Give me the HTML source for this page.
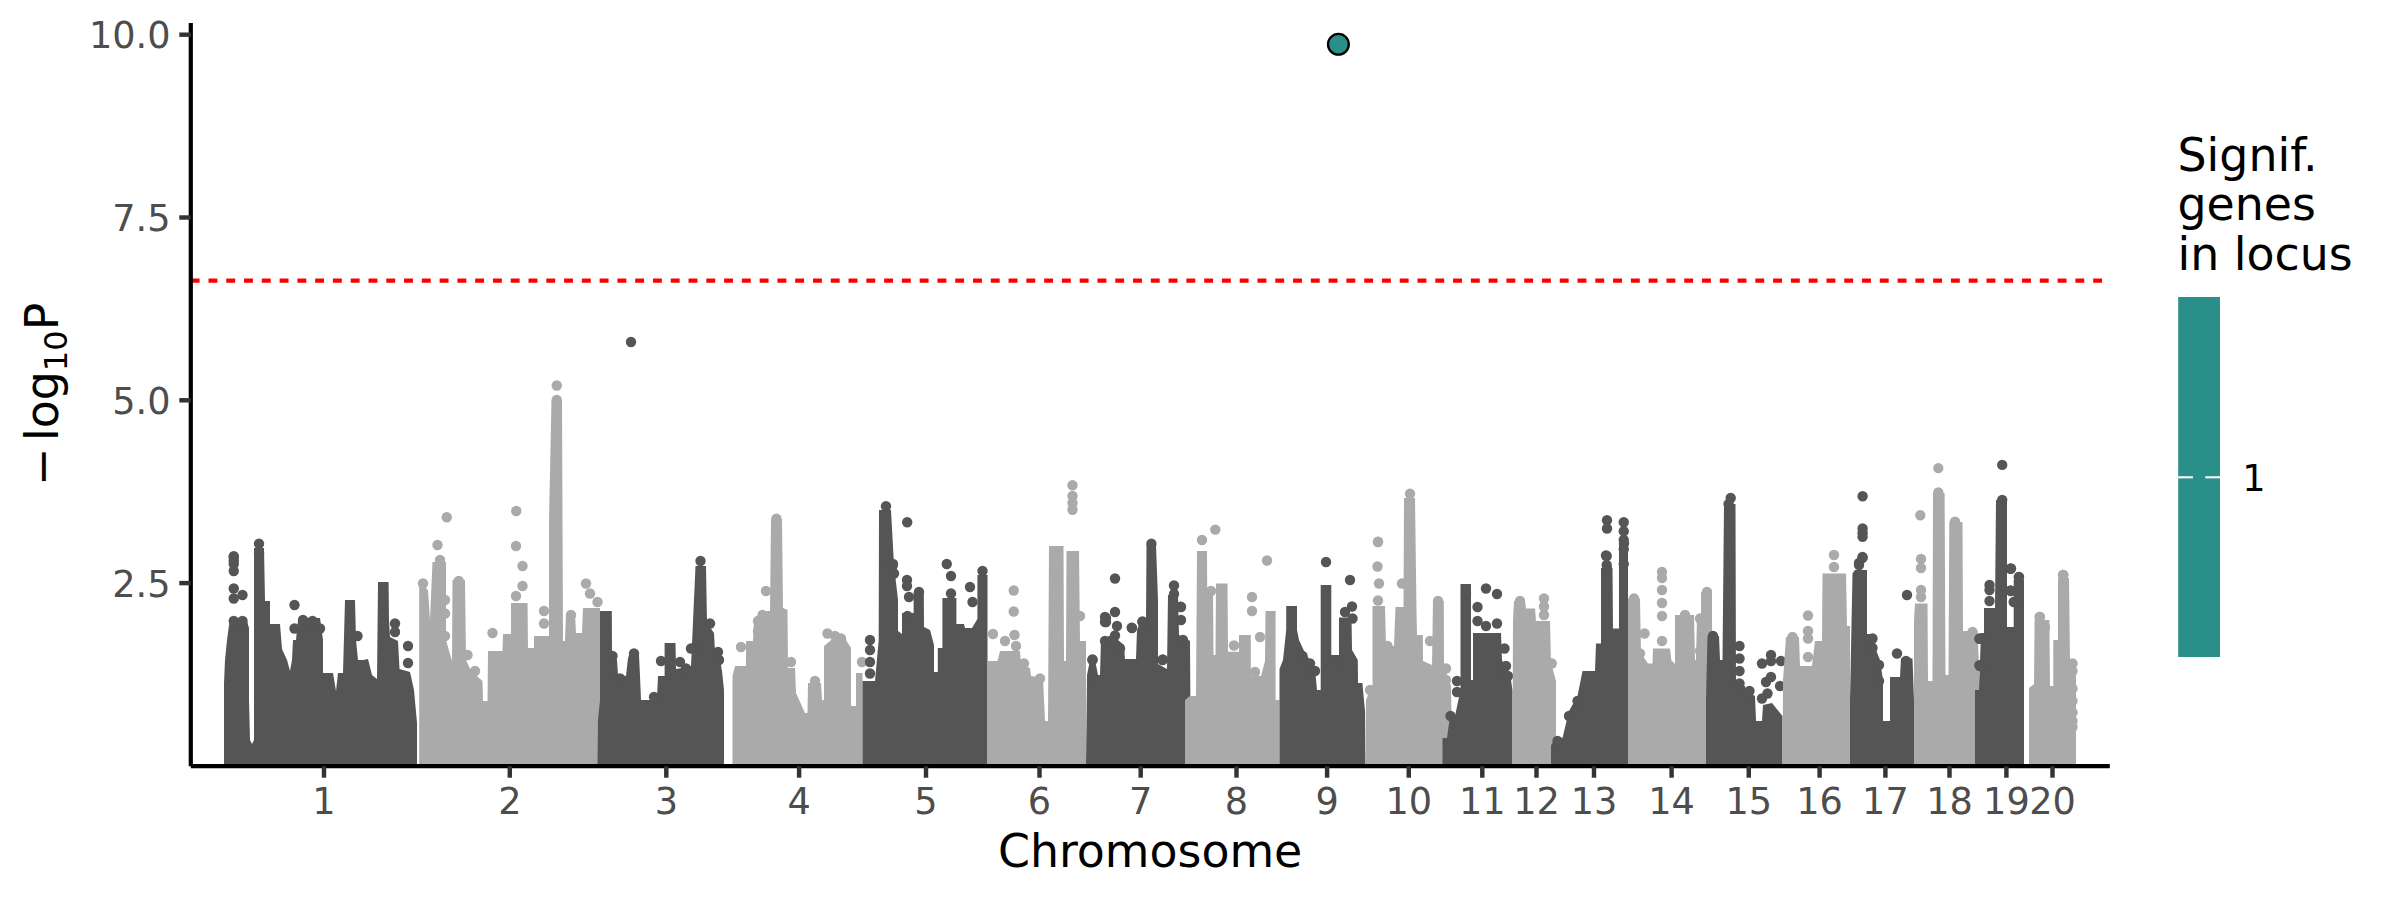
<!DOCTYPE html><html><head><meta charset="utf-8"><title>Manhattan plot</title><style>html,body{margin:0;padding:0;background:#fff;overflow:hidden}svg{display:block}text{font-family:"DejaVu Sans","Liberation Sans",sans-serif}</style></head><body>
<svg width="2400" height="900" viewBox="0 0 2400 900">
<rect width="2400" height="900" fill="#fff"/>
<clipPath id="pc"><rect x="190.8" y="23" width="1919" height="743.2"/></clipPath>
<g clip-path="url(#pc)">
<g fill="#555555"><polygon points="224,766 224,683 225,660 227,640 229,625 231,621 247,621 249,628 249,700 250,740 252,744 254,740 254,656 254,548 264,548 265,601 270,601 270,624 280,624 282,649 287,660 290,671 292,660 293,640 296,640 298,620 300,618 320,618 323,640 323,673 333,673 336,691 338,673 343,673 345,600 355,600 356,640 358,660 363,660 368,659 372,675 377,679 378,582 388.6,582 389,620 390,637 398,641 399.5,669 410,672 414,690 417,723 417,766"/>
<circle cx="233.75" cy="557" r="5.2"/>
<circle cx="233.75" cy="564" r="5.2"/>
<circle cx="233.75" cy="571" r="5.2"/>
<circle cx="233.75" cy="588.5" r="5.2"/>
<circle cx="233.75" cy="598.5" r="5.2"/>
<circle cx="242.5" cy="595" r="5.2"/>
<circle cx="233.75" cy="621" r="5.2"/>
<circle cx="242.5" cy="621" r="5.2"/>
<circle cx="294.5" cy="605" r="5.2"/>
<circle cx="294.5" cy="628.5" r="5.2"/>
<circle cx="303" cy="620" r="5.2"/>
<circle cx="312.5" cy="621" r="5.2"/>
<circle cx="320" cy="628.5" r="5.2"/>
<circle cx="357.5" cy="636" r="5.2"/>
<circle cx="395" cy="623.5" r="5.2"/>
<circle cx="395" cy="632" r="5.2"/>
<circle cx="408" cy="646" r="5.2"/>
<circle cx="408" cy="663" r="5.2"/>
<circle cx="259" cy="543.8" r="5.2"/>
<circle cx="259" cy="552.8" r="5.2"/>
<circle cx="233.75" cy="556.3" r="5.2"/>
<circle cx="233.75" cy="560.4" r="5.2"/>
</g>
<g fill="#aaaaaa"><polygon points="419.2,766 419.2,588 420,583 428,590 430,620 432.5,562 446,562 446,640 452,661 452.5,580 465,580 466,660 471,671 482.5,681 483,701 487.5,701 488,651 502.5,651 503,634 511,634 511,603 527.5,603 528,648 534,648 534,636 549,636 549,520 551.5,400 562,400 562.5,520 563,641 565,641 566,614 575,614 576,633 582,633 583,608 600,608 600,766"/>
<circle cx="423" cy="583.5" r="5.2"/>
<circle cx="437.5" cy="545" r="5.2"/>
<circle cx="440" cy="560" r="5.2"/>
<circle cx="445" cy="600" r="5.2"/>
<circle cx="445" cy="613.5" r="5.2"/>
<circle cx="445" cy="636" r="5.2"/>
<circle cx="458.75" cy="581" r="5.2"/>
<circle cx="467.5" cy="655" r="5.2"/>
<circle cx="475" cy="671" r="5.2"/>
<circle cx="476" cy="683.5" r="5.2"/>
<circle cx="492.5" cy="633" r="5.2"/>
<circle cx="516" cy="546" r="5.2"/>
<circle cx="522.5" cy="566" r="5.2"/>
<circle cx="522.5" cy="586" r="5.2"/>
<circle cx="516" cy="596" r="5.2"/>
<circle cx="544" cy="611" r="5.2"/>
<circle cx="544" cy="623.5" r="5.2"/>
<circle cx="571" cy="615" r="5.2"/>
<circle cx="586" cy="583.5" r="5.2"/>
<circle cx="590" cy="593.5" r="5.2"/>
<circle cx="597.5" cy="602" r="5.2"/>
<circle cx="556.75" cy="385.5" r="5.2"/>
<circle cx="556.75" cy="400" r="5.2"/>
<circle cx="446.75" cy="517.25" r="5.2"/>
<circle cx="516.25" cy="511" r="5.2"/>
</g>
<g fill="#555555"><polygon points="597.5,766 598,720 600,700 600,611 611.8,611 612,653 617,660 618,675 626,676 628,658 629,655 639,655 640,676 641,700 650,700 657,697 658,676 664.6,676 664.6,643 675.5,643 676,669 688,667 691,666 695.5,566 706,566 707,623 714,633 715,652 720,660 722,671 724,690 724,766"/>
<circle cx="612.5" cy="656" r="5.2"/>
<circle cx="620" cy="678.5" r="5.2"/>
<circle cx="634" cy="653.5" r="5.2"/>
<circle cx="654" cy="697" r="5.2"/>
<circle cx="661" cy="661" r="5.2"/>
<circle cx="680" cy="662" r="5.2"/>
<circle cx="686" cy="668.5" r="5.2"/>
<circle cx="700.5" cy="561" r="5.2"/>
<circle cx="694" cy="648.5" r="5.2"/>
<circle cx="691" cy="648.5" r="5.2"/>
<circle cx="710" cy="623.5" r="5.2"/>
<circle cx="718" cy="652" r="5.2"/>
<circle cx="719" cy="660" r="5.2"/>
<circle cx="631" cy="342" r="5.2"/>
</g>
<g fill="#aaaaaa"><polygon points="732.5,766 732.5,676 735,666 746,666 746,641 753,641 754,620 760,615 765,611 770,611 771,519 782,519 783,608 787.5,610 788,668 795,668 796,693 805,713 807.5,713 808,683 821,683 822,700 824,700 824,646 836,636 846,640 851,648 851,706 856,706 856,673 862.5,673 862.5,766"/>
<circle cx="741" cy="647" r="5.2"/>
<circle cx="758" cy="621" r="5.2"/>
<circle cx="762.5" cy="615" r="5.2"/>
<circle cx="758" cy="631" r="5.2"/>
<circle cx="766" cy="591" r="5.2"/>
<circle cx="791" cy="662" r="5.2"/>
<circle cx="815" cy="681" r="5.2"/>
<circle cx="827.5" cy="633.5" r="5.2"/>
<circle cx="835" cy="636" r="5.2"/>
<circle cx="841" cy="638.5" r="5.2"/>
<circle cx="862" cy="662" r="5.2"/>
<circle cx="776.4" cy="518.8" r="5.2"/>
</g>
<g fill="#555555"><polygon points="862.5,766 862.5,681 875,681 878.7,640 879,510 891,510 894,565 898,600 898,631 902,634 902,613 913.6,613 913.6,592 923.8,592 924,627 930,630 934,645 934,672 937.8,672 937.8,648 942.4,648 942.4,598 956.4,598 956.4,624 964,624 965,628 972,628 977.4,619 977.4,575 987.5,575 987.5,766"/>
<circle cx="870" cy="640" r="5.2"/>
<circle cx="870" cy="650" r="5.2"/>
<circle cx="870" cy="662" r="5.2"/>
<circle cx="870" cy="673.5" r="5.2"/>
<circle cx="892.5" cy="566" r="5.2"/>
<circle cx="894" cy="573.5" r="5.2"/>
<circle cx="907" cy="580" r="5.2"/>
<circle cx="907" cy="586" r="5.2"/>
<circle cx="909" cy="597" r="5.2"/>
<circle cx="907.5" cy="616" r="5.2"/>
<circle cx="919" cy="592" r="5.2"/>
<circle cx="946.75" cy="564" r="5.2"/>
<circle cx="951" cy="576" r="5.2"/>
<circle cx="951" cy="593.5" r="5.2"/>
<circle cx="970" cy="587" r="5.2"/>
<circle cx="972.5" cy="602" r="5.2"/>
<circle cx="982.5" cy="571" r="5.2"/>
<circle cx="886" cy="506.3" r="5.2"/>
<circle cx="907.2" cy="522.25" r="5.2"/>
<circle cx="893" cy="564" r="5.2"/>
</g>
<g fill="#aaaaaa"><polygon points="987.5,766 987.5,661 997.5,661 1000,651 1020,651 1021,665 1030,668 1031,676 1043,678 1045,721 1048,721 1049,546 1063.5,546 1064,661 1066,661 1066.5,551 1079,551 1080,641 1086,641 1086,766"/>
<circle cx="993" cy="634" r="5.2"/>
<circle cx="1005" cy="641" r="5.2"/>
<circle cx="1013.75" cy="590.5" r="5.2"/>
<circle cx="1013.75" cy="611.5" r="5.2"/>
<circle cx="1014.5" cy="635" r="5.2"/>
<circle cx="1016" cy="646" r="5.2"/>
<circle cx="1024" cy="663.5" r="5.2"/>
<circle cx="1040" cy="678.5" r="5.2"/>
<circle cx="1080" cy="616" r="5.2"/>
<circle cx="1072.5" cy="485.2" r="5.2"/>
<circle cx="1072.5" cy="496" r="5.2"/>
<circle cx="1072.5" cy="503" r="5.2"/>
<circle cx="1072.5" cy="509.75" r="5.2"/>
</g>
<g fill="#555555"><polygon points="1086,766 1087,675 1090,660 1095,660 1098,675 1100,675 1101,639 1112,635 1124,645 1125,659 1136,659 1137,630 1140,622 1146,622 1146.5,545 1156,545 1158,600 1158,664 1167,669 1168,595 1178,595 1179,635 1190,641 1190.8,766"/>
<circle cx="1092.5" cy="660" r="5.2"/>
<circle cx="1092.5" cy="680" r="5.2"/>
<circle cx="1105" cy="617" r="5.2"/>
<circle cx="1105" cy="622" r="5.2"/>
<circle cx="1105" cy="641" r="5.2"/>
<circle cx="1115" cy="578.5" r="5.2"/>
<circle cx="1115" cy="612" r="5.2"/>
<circle cx="1117" cy="626" r="5.2"/>
<circle cx="1115" cy="635.5" r="5.2"/>
<circle cx="1120" cy="648.5" r="5.2"/>
<circle cx="1132" cy="628" r="5.2"/>
<circle cx="1142.5" cy="622" r="5.2"/>
<circle cx="1162.5" cy="660" r="5.2"/>
<circle cx="1174" cy="585.5" r="5.2"/>
<circle cx="1174" cy="594" r="5.2"/>
<circle cx="1181" cy="607" r="5.2"/>
<circle cx="1181" cy="620" r="5.2"/>
<circle cx="1183" cy="640" r="5.2"/>
<circle cx="1151.4" cy="543.8" r="5.2"/>
<circle cx="1092.5" cy="659.5" r="5.2"/>
<circle cx="1106" cy="618" r="5.2"/>
<circle cx="1106" cy="622" r="5.2"/>
<circle cx="1131.7" cy="627.6" r="5.2"/>
<circle cx="1142.5" cy="621.4" r="5.2"/>
<circle cx="1162.8" cy="659.5" r="5.2"/>
<circle cx="1180.6" cy="606.7" r="5.2"/>
</g>
<g fill="#aaaaaa"><polygon points="1185,766 1185,700 1190,696 1196,696 1197,551 1207,551 1207.2,590 1213,590 1213.5,655 1215.5,655 1216,583.5 1227.5,583.5 1228,651.8 1239,651.8 1239,635 1250.8,635 1250.8,676 1261,676 1265,661 1265.5,611 1275.6,611 1275.6,700 1279.5,700 1279.5,766"/>
<circle cx="1211" cy="591" r="5.2"/>
<circle cx="1234" cy="645.5" r="5.2"/>
<circle cx="1252" cy="597" r="5.2"/>
<circle cx="1252" cy="611" r="5.2"/>
<circle cx="1260" cy="637" r="5.2"/>
<circle cx="1255" cy="672" r="5.2"/>
<circle cx="1267" cy="560.5" r="5.2"/>
<circle cx="1202" cy="540" r="5.2"/>
<circle cx="1215.3" cy="529.6" r="5.2"/>
</g>
<g fill="#555555"><polygon points="1279.5,766 1279.5,669 1283,660 1286.2,630 1286.2,606 1297,606 1297,630 1299,640 1305,653 1310,660 1315,669 1317,690 1320.7,690 1320.7,585 1331.3,585 1331.3,655 1339,655 1339,617.5 1351.5,617.5 1352,650 1357.8,660 1358,683 1362.4,683 1365,711 1365,766"/>
<circle cx="1326" cy="562" r="5.2"/>
<circle cx="1350" cy="580" r="5.2"/>
<circle cx="1352" cy="606.5" r="5.2"/>
<circle cx="1345" cy="612" r="5.2"/>
<circle cx="1352.5" cy="618.5" r="5.2"/>
<circle cx="1302.5" cy="656" r="5.2"/>
<circle cx="1310" cy="663.5" r="5.2"/>
<circle cx="1315" cy="671" r="5.2"/>
<circle cx="1335" cy="661" r="5.2"/>
</g>
<g fill="#aaaaaa"><polygon points="1365,766 1366,700 1370,690 1372.5,690 1372.5,606 1385,606 1386,646 1394,646 1395.5,607 1403.5,607 1404,498 1415,498 1416.5,610 1417,635 1422.8,635 1423,661 1432,665 1433,601 1443.8,601 1444,666 1451,686 1452.5,766"/>
<circle cx="1370" cy="690" r="5.2"/>
<circle cx="1378" cy="542" r="5.2"/>
<circle cx="1377.5" cy="566.5" r="5.2"/>
<circle cx="1379" cy="583.5" r="5.2"/>
<circle cx="1378" cy="600.5" r="5.2"/>
<circle cx="1387.5" cy="646" r="5.2"/>
<circle cx="1387.5" cy="663.5" r="5.2"/>
<circle cx="1402" cy="583.5" r="5.2"/>
<circle cx="1430" cy="641" r="5.2"/>
<circle cx="1438" cy="601" r="5.2"/>
<circle cx="1446" cy="668.5" r="5.2"/>
<circle cx="1446" cy="680" r="5.2"/>
<circle cx="1410" cy="493.8" r="5.2"/>
<circle cx="1378" cy="541.7" r="5.2"/>
</g>
<g fill="#555555"><polygon points="1442.5,766 1442.5,738 1447,738 1450,716 1455,716 1460.5,690 1460.5,584 1471,584 1471,680 1473,680 1473,633 1501,633 1502,660 1511,680 1512.5,690 1512.5,766"/>
<circle cx="1450.5" cy="716" r="5.2"/>
<circle cx="1457" cy="681" r="5.2"/>
<circle cx="1457" cy="692" r="5.2"/>
<circle cx="1466" cy="593" r="5.2"/>
<circle cx="1477.5" cy="607" r="5.2"/>
<circle cx="1477.5" cy="621" r="5.2"/>
<circle cx="1486" cy="588.5" r="5.2"/>
<circle cx="1497" cy="594" r="5.2"/>
<circle cx="1486" cy="626" r="5.2"/>
<circle cx="1497" cy="623.5" r="5.2"/>
<circle cx="1504.5" cy="648.5" r="5.2"/>
<circle cx="1506" cy="666" r="5.2"/>
<circle cx="1508" cy="676" r="5.2"/>
</g>
<g fill="#aaaaaa"><polygon points="1512.5,766 1513,620 1514,601 1525,601 1526,608.5 1535,608.5 1536,621 1550,621 1551,663 1556,681 1556,766"/>
<circle cx="1520" cy="601" r="5.2"/>
<circle cx="1544" cy="598.5" r="5.2"/>
<circle cx="1544" cy="606.5" r="5.2"/>
<circle cx="1544" cy="615" r="5.2"/>
<circle cx="1551.75" cy="663.5" r="5.2"/>
</g>
<g fill="#555555"><polygon points="1551,766 1551,745 1557.5,737 1562.5,738 1569,711 1577.5,696 1582.5,671 1595,671 1596,643.5 1601,643.5 1601,568 1612.5,568 1613,628.5 1619,628.5 1619,543.5 1628,543.5 1628,766"/>
<circle cx="1557.5" cy="741" r="5.2"/>
<circle cx="1569" cy="716" r="5.2"/>
<circle cx="1577.5" cy="701" r="5.2"/>
<circle cx="1606" cy="555.5" r="5.2"/>
<circle cx="1607" cy="568.5" r="5.2"/>
<circle cx="1624" cy="543.5" r="5.2"/>
<circle cx="1607" cy="520.2" r="5.2"/>
<circle cx="1607" cy="528.5" r="5.2"/>
<circle cx="1623.75" cy="522.25" r="5.2"/>
<circle cx="1623.75" cy="531.3" r="5.2"/>
<circle cx="1623.75" cy="540" r="5.2"/>
<circle cx="1623.75" cy="549.3" r="5.2"/>
<circle cx="1623.75" cy="564" r="5.2"/>
<circle cx="1606.7" cy="556" r="5.2"/>
<circle cx="1606.7" cy="565" r="5.2"/>
</g>
<g fill="#aaaaaa"><polygon points="1628,766 1628,598.5 1640,598.5 1641,653.5 1648,663.5 1652.5,663.5 1653,648.5 1670,648.5 1672,666 1675,666 1675,615 1694,615 1695,660 1696,660 1697,616 1701,616 1701,592 1712,592 1712,766"/>
<circle cx="1634" cy="598.5" r="5.2"/>
<circle cx="1644.5" cy="633.5" r="5.2"/>
<circle cx="1640" cy="653.5" r="5.2"/>
<circle cx="1662" cy="572" r="5.2"/>
<circle cx="1662" cy="578" r="5.2"/>
<circle cx="1662" cy="590" r="5.2"/>
<circle cx="1662" cy="603" r="5.2"/>
<circle cx="1662" cy="616" r="5.2"/>
<circle cx="1662" cy="641" r="5.2"/>
<circle cx="1670" cy="666" r="5.2"/>
<circle cx="1670" cy="677" r="5.2"/>
<circle cx="1685" cy="615" r="5.2"/>
<circle cx="1700" cy="618.5" r="5.2"/>
<circle cx="1700" cy="651" r="5.2"/>
<circle cx="1707" cy="592" r="5.2"/>
</g>
<g fill="#555555"><polygon points="1706,766 1706,700 1707.5,636 1719,636 1720,660 1722.5,660 1724,504 1735.5,504 1736,686 1745,686 1746,691 1755,696 1756,721 1762,721 1763,705 1772,703 1782.5,716 1782.5,766"/>
<circle cx="1713" cy="636" r="5.2"/>
<circle cx="1739.5" cy="646" r="5.2"/>
<circle cx="1739.5" cy="658.5" r="5.2"/>
<circle cx="1739.5" cy="671" r="5.2"/>
<circle cx="1739.5" cy="683.5" r="5.2"/>
<circle cx="1749.5" cy="691" r="5.2"/>
<circle cx="1762" cy="663.5" r="5.2"/>
<circle cx="1762" cy="698.5" r="5.2"/>
<circle cx="1771" cy="655" r="5.2"/>
<circle cx="1771" cy="661" r="5.2"/>
<circle cx="1771" cy="677" r="5.2"/>
<circle cx="1766" cy="682" r="5.2"/>
<circle cx="1767.5" cy="693.5" r="5.2"/>
<circle cx="1781" cy="661" r="5.2"/>
<circle cx="1780" cy="686" r="5.2"/>
<circle cx="1730.7" cy="498" r="5.2"/>
<circle cx="1728.6" cy="504" r="5.2"/>
</g>
<g fill="#aaaaaa"><polygon points="1782.5,766 1783,680 1786,637 1799,637 1800,666 1812,666 1815,641 1822,641 1822.5,573.5 1846,573.5 1847,626 1850,626 1850,766"/>
<circle cx="1792.5" cy="637" r="5.2"/>
<circle cx="1808" cy="615.5" r="5.2"/>
<circle cx="1808" cy="631" r="5.2"/>
<circle cx="1808" cy="638.5" r="5.2"/>
<circle cx="1808" cy="657" r="5.2"/>
<circle cx="1834" cy="555" r="5.2"/>
<circle cx="1834" cy="567" r="5.2"/>
</g>
<g fill="#555555"><polygon points="1850,766 1850,700 1852.5,573.5 1855,570 1867,570 1867,634 1874,634 1876,650 1880,660 1883,680 1883,721 1890,721 1890,677 1900,677 1901,658.5 1912.5,658.5 1914,700 1914,766"/>
<circle cx="1862.5" cy="557" r="5.2"/>
<circle cx="1859" cy="565" r="5.2"/>
<circle cx="1872.5" cy="638.5" r="5.2"/>
<circle cx="1872.5" cy="648" r="5.2"/>
<circle cx="1879" cy="665" r="5.2"/>
<circle cx="1879" cy="681" r="5.2"/>
<circle cx="1897" cy="653.5" r="5.2"/>
<circle cx="1906" cy="661" r="5.2"/>
<circle cx="1906" cy="668" r="5.2"/>
<circle cx="1907" cy="595" r="5.2"/>
<circle cx="1862.6" cy="496.3" r="5.2"/>
<circle cx="1862.6" cy="528.5" r="5.2"/>
<circle cx="1862.6" cy="533" r="5.2"/>
<circle cx="1862.6" cy="536.8" r="5.2"/>
<circle cx="1862.6" cy="557.7" r="5.2"/>
<circle cx="1859" cy="563" r="5.2"/>
</g>
<g fill="#aaaaaa"><polygon points="1914,766 1914,620 1915,603.5 1927.5,603.5 1928,681 1932.5,681 1933,493 1944.6,493 1945.5,675 1948.5,675 1949.3,522 1962.5,522 1963,631 1977.5,631 1980,690 1980,766"/>
<circle cx="1921" cy="559" r="5.2"/>
<circle cx="1921" cy="568" r="5.2"/>
<circle cx="1921" cy="590" r="5.2"/>
<circle cx="1921" cy="597" r="5.2"/>
<circle cx="1972.5" cy="632" r="5.2"/>
<circle cx="1938.3" cy="492.4" r="5.2"/>
<circle cx="1938.3" cy="468.1" r="5.2"/>
<circle cx="1920.3" cy="515.3" r="5.2"/>
<circle cx="1955" cy="521.6" r="5.2"/>
</g>
<g fill="#555555"><polygon points="1975,766 1975,690 1979,690 1981,633 1984,633 1984,608 1995,608 1996,500 2007,500 2007,627 2013.7,627 2013.7,580 2024,580 2024,766"/>
<circle cx="1980" cy="638.5" r="5.2"/>
<circle cx="1980" cy="666" r="5.2"/>
<circle cx="1989.5" cy="585" r="5.2"/>
<circle cx="1989.5" cy="590" r="5.2"/>
<circle cx="1989.5" cy="601" r="5.2"/>
<circle cx="2011" cy="568.5" r="5.2"/>
<circle cx="2011" cy="591" r="5.2"/>
<circle cx="2019" cy="577" r="5.2"/>
<circle cx="2002.2" cy="500" r="5.2"/>
<circle cx="2002.2" cy="464.9" r="5.2"/>
<circle cx="2010.5" cy="568.8" r="5.2"/>
<circle cx="2010.5" cy="590.5" r="5.2"/>
<circle cx="2013.7" cy="602" r="5.2"/>
<circle cx="2018.8" cy="577.3" r="5.2"/>
<circle cx="1979.4" cy="638.8" r="5.2"/>
<circle cx="1979.4" cy="665.2" r="5.2"/>
</g>
<g fill="#aaaaaa"><polygon points="2029,766 2029,688 2034,684 2034.6,620 2049.4,620 2050,686 2053.3,686 2053.3,640 2058,640 2058,578 2069,578 2070,661 2076,661 2076,766"/>
<circle cx="2039.5" cy="617" r="5.2"/>
<circle cx="2045" cy="627" r="5.2"/>
<circle cx="2063" cy="575" r="5.2"/>
<circle cx="2072.5" cy="663.5" r="5.2"/>
<circle cx="2072.5" cy="671" r="5.2"/>
<circle cx="2072.5" cy="688.5" r="5.2"/>
<circle cx="2072.5" cy="701" r="5.2"/>
<circle cx="2072.5" cy="712.5" r="5.2"/>
<circle cx="2072.5" cy="721" r="5.2"/>
<circle cx="2072.5" cy="727" r="5.2"/>
<circle cx="2040" cy="617" r="5.2"/>
<circle cx="2063.4" cy="575" r="5.2"/>
</g>
</g>
<line x1="190.7" y1="280.6" x2="2109.8" y2="280.6" stroke="#ff0000" stroke-width="4.45" stroke-dasharray="8.89 8.89"/>
<circle cx="1338.4" cy="44.3" r="10.4" fill="#2a8f88" stroke="#000" stroke-width="2.3"/>
<line x1="190.8" y1="23" x2="190.8" y2="766.2" stroke="#000" stroke-width="4.2"/>
<line x1="190.8" y1="766.2" x2="2109.8" y2="766.2" stroke="#000" stroke-width="4.2"/>
<line x1="179.3" y1="34.7" x2="190.8" y2="34.7" stroke="#333333" stroke-width="4.45"/>
<text x="170.5" y="48.1" font-size="36.67" fill="#4d4d4d" text-anchor="end">10.0</text>
<line x1="179.3" y1="217.5" x2="190.8" y2="217.5" stroke="#333333" stroke-width="4.45"/>
<text x="170.5" y="230.9" font-size="36.67" fill="#4d4d4d" text-anchor="end">7.5</text>
<line x1="179.3" y1="400.3" x2="190.8" y2="400.3" stroke="#333333" stroke-width="4.45"/>
<text x="170.5" y="413.7" font-size="36.67" fill="#4d4d4d" text-anchor="end">5.0</text>
<line x1="179.3" y1="583.1" x2="190.8" y2="583.1" stroke="#333333" stroke-width="4.45"/>
<text x="170.5" y="596.5" font-size="36.67" fill="#4d4d4d" text-anchor="end">2.5</text>
<line x1="324" y1="766.2" x2="324" y2="777.7" stroke="#333333" stroke-width="4.45"/>
<text x="324" y="814" font-size="36.67" fill="#4d4d4d" text-anchor="middle">1</text>
<line x1="509.8" y1="766.2" x2="509.8" y2="777.7" stroke="#333333" stroke-width="4.45"/>
<text x="509.8" y="814" font-size="36.67" fill="#4d4d4d" text-anchor="middle">2</text>
<line x1="666.3" y1="766.2" x2="666.3" y2="777.7" stroke="#333333" stroke-width="4.45"/>
<text x="666.3" y="814" font-size="36.67" fill="#4d4d4d" text-anchor="middle">3</text>
<line x1="799.1" y1="766.2" x2="799.1" y2="777.7" stroke="#333333" stroke-width="4.45"/>
<text x="799.1" y="814" font-size="36.67" fill="#4d4d4d" text-anchor="middle">4</text>
<line x1="926" y1="766.2" x2="926" y2="777.7" stroke="#333333" stroke-width="4.45"/>
<text x="926" y="814" font-size="36.67" fill="#4d4d4d" text-anchor="middle">5</text>
<line x1="1039.5" y1="766.2" x2="1039.5" y2="777.7" stroke="#333333" stroke-width="4.45"/>
<text x="1039.5" y="814" font-size="36.67" fill="#4d4d4d" text-anchor="middle">6</text>
<line x1="1140.7" y1="766.2" x2="1140.7" y2="777.7" stroke="#333333" stroke-width="4.45"/>
<text x="1140.7" y="814" font-size="36.67" fill="#4d4d4d" text-anchor="middle">7</text>
<line x1="1236.5" y1="766.2" x2="1236.5" y2="777.7" stroke="#333333" stroke-width="4.45"/>
<text x="1236.5" y="814" font-size="36.67" fill="#4d4d4d" text-anchor="middle">8</text>
<line x1="1327.1" y1="766.2" x2="1327.1" y2="777.7" stroke="#333333" stroke-width="4.45"/>
<text x="1327.1" y="814" font-size="36.67" fill="#4d4d4d" text-anchor="middle">9</text>
<line x1="1408.75" y1="766.2" x2="1408.75" y2="777.7" stroke="#333333" stroke-width="4.45"/>
<text x="1408.75" y="814" font-size="36.67" fill="#4d4d4d" text-anchor="middle">10</text>
<line x1="1482.3" y1="766.2" x2="1482.3" y2="777.7" stroke="#333333" stroke-width="4.45"/>
<text x="1482.3" y="814" font-size="36.67" fill="#4d4d4d" text-anchor="middle">11</text>
<line x1="1536.5" y1="766.2" x2="1536.5" y2="777.7" stroke="#333333" stroke-width="4.45"/>
<text x="1536.5" y="814" font-size="36.67" fill="#4d4d4d" text-anchor="middle">12</text>
<line x1="1594" y1="766.2" x2="1594" y2="777.7" stroke="#333333" stroke-width="4.45"/>
<text x="1594" y="814" font-size="36.67" fill="#4d4d4d" text-anchor="middle">13</text>
<line x1="1671.6" y1="766.2" x2="1671.6" y2="777.7" stroke="#333333" stroke-width="4.45"/>
<text x="1671.6" y="814" font-size="36.67" fill="#4d4d4d" text-anchor="middle">14</text>
<line x1="1748.75" y1="766.2" x2="1748.75" y2="777.7" stroke="#333333" stroke-width="4.45"/>
<text x="1748.75" y="814" font-size="36.67" fill="#4d4d4d" text-anchor="middle">15</text>
<line x1="1819.6" y1="766.2" x2="1819.6" y2="777.7" stroke="#333333" stroke-width="4.45"/>
<text x="1819.6" y="814" font-size="36.67" fill="#4d4d4d" text-anchor="middle">16</text>
<line x1="1885.4" y1="766.2" x2="1885.4" y2="777.7" stroke="#333333" stroke-width="4.45"/>
<text x="1885.4" y="814" font-size="36.67" fill="#4d4d4d" text-anchor="middle">17</text>
<line x1="1949.5" y1="766.2" x2="1949.5" y2="777.7" stroke="#333333" stroke-width="4.45"/>
<text x="1949.5" y="814" font-size="36.67" fill="#4d4d4d" text-anchor="middle">18</text>
<line x1="2006.4" y1="766.2" x2="2006.4" y2="777.7" stroke="#333333" stroke-width="4.45"/>
<text x="2006.4" y="814" font-size="36.67" fill="#4d4d4d" text-anchor="middle">19</text>
<line x1="2052.5" y1="766.2" x2="2052.5" y2="777.7" stroke="#333333" stroke-width="4.45"/>
<text x="2052.5" y="814" font-size="36.67" fill="#4d4d4d" text-anchor="middle">20</text>
<text x="1150.1" y="867.2" font-size="45.83" fill="#000" text-anchor="middle">Chromosome</text>
<text transform="translate(57.8,486) rotate(-90)" font-size="45.83" fill="#000">−<tspan dx="6.6">log</tspan><tspan font-size="32.08" dy="9">10</tspan><tspan dy="-9">P</tspan></text>
<text font-size="45.83" fill="#000"><tspan x="2177.5" y="170.6">Signif.</tspan><tspan x="2177.5" y="220.1">genes</tspan><tspan x="2177.5" y="269.6">in locus</tspan></text>
<rect x="2178.2" y="297" width="41.8" height="360" fill="#2a8f88"/>
<line x1="2178.2" y1="477.3" x2="2192.9" y2="477.3" stroke="#fff" stroke-width="2.1"/>
<line x1="2205.3" y1="477.3" x2="2220" y2="477.3" stroke="#fff" stroke-width="2.1"/>
<text x="2242.2" y="491.1" font-size="36.67" fill="#000">1</text>
</svg></body></html>
